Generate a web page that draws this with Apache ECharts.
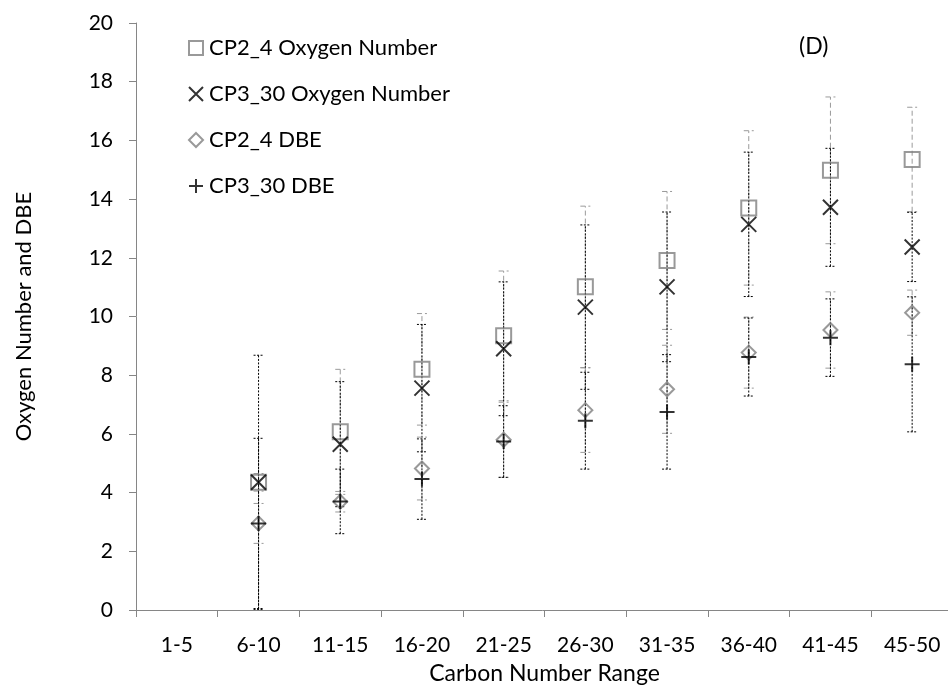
<!DOCTYPE html>
<html>
<head>
<meta charset="utf-8">
<script src="https://cdn.jsdelivr.net/npm/echarts@6/dist/echarts.min.js"></script>
<style>html,body{margin:0;padding:0;background:#fff}#c{width:948px;height:687px}</style>
</head>
<body>
<div id="c"></div>
<script>
var categories = ['1-5','6-10','11-15','16-20','21-25','26-30','31-35','36-40','41-45','45-50'];
var yTicks = [0,2,4,6,8,10,12,14,16,18,20];
var cp24O    = [null, 4.35, 6.07, 8.20, 9.34, 11.01, 11.91, 13.70, 14.98, 15.35];
var cp24OErr = [null, 0.30, 2.13, 1.90, 2.21, 2.75, 2.35, 2.63, 2.50, 1.78];
var cp330O    = [null, 4.35, 5.65, 7.56, 8.90, 10.32, 11.01, 13.14, 13.72, 12.37];
var cp330OErr = [null, 4.33, 2.13, 2.17, 2.28, 2.80, 2.55, 2.46, 2.01, 1.18];
var cp24D    = [null, 2.95, 3.69, 4.82, 5.80, 6.81, 7.52, 8.77, 9.54, 10.13];
var cp24DErr = [null, 0.68, 0.35, 1.07, 1.28, 1.44, 1.50, 1.21, 1.30, 0.77];
var cp330D    = [null, 2.95, 3.70, 4.46, 5.74, 6.45, 6.75, 8.62, 9.28, 8.37];
var cp330DErr = [null, 2.90, 1.10, 1.37, 1.22, 1.65, 1.95, 1.33, 1.32, 2.30];

var FONT = 'Lato, "Open Sans", sans-serif';

function errData(vals, errs) {
  var out = [];
  for (var i = 0; i < vals.length; i++) {
    if (vals[i] == null) continue;
    out.push([i, vals[i] - errs[i], vals[i] + errs[i]]);
  }
  return out;
}
function errSeries(vals, errs, color, dash) {
  return {
    type: 'custom',
    silent: true,
    z: 1,
    data: errData(vals, errs),
    renderItem: function (params, api) {
      var lo = api.coord([api.value(0), api.value(1)]);
      var hi = api.coord([api.value(0), api.value(2)]);
      var x = lo[0], hw = 5;
      var style = { stroke: color, lineWidth: 1, lineDash: dash, fill: null };
      return {
        type: 'group',
        children: [
          { type: 'line', shape: { x1: x, y1: lo[1], x2: x, y2: hi[1] }, style: style },
          { type: 'line', shape: { x1: x - hw, y1: lo[1], x2: x + hw, y2: lo[1] }, style: style },
          { type: 'line', shape: { x1: x - hw, y1: hi[1], x2: x + hw, y2: hi[1] }, style: style }
        ]
      };
    }
  };
}

var chart = echarts.init(document.getElementById('c'), null, { renderer: 'canvas' });
var xPath = 'path://M0,0L10,10M10,0L0,10';
var plusPath = 'path://M5,0L5,10M0,5L10,5';

chart.setOption({
  animation: false,
  backgroundColor: '#fff',
  textStyle: { fontFamily: FONT },
  grid: { left: 136, right: -5, top: 23, bottom: 77, containLabel: false, outerBoundsMode: 'none' },
  legend: {
    orient: 'vertical',
    left: 183,
    top: 32,
    itemWidth: 14,
    itemHeight: 14,
    itemGap: 24,
    textStyle: { fontSize: 22, lineHeight: 20, color: '#000', fontFamily: FONT, padding: [0, 0, 0, 1] },
    data: ['CP2_4 Oxygen Number', 'CP3_30 Oxygen Number', 'CP2_4 DBE', 'CP3_30 DBE']
  },
  graphic: [{
    type: 'text', left: 799, top: 35,
    style: { text: '(D)', fontSize: 23, fill: '#000', fontFamily: FONT }
  }],
  xAxis: {
    type: 'category',
    data: categories,
    boundaryGap: true,
    name: 'Carbon Number Range',
    nameLocation: 'middle',
    nameGap: 52,
    nameTextStyle: { fontSize: 23, color: '#000', fontFamily: FONT },
    axisLine: { lineStyle: { color: '#868686', width: 1 } },
    axisTick: { show: true, alignWithLabel: false, length: 7, lineStyle: { color: '#868686' } },
    axisLabel: { fontSize: 21, color: '#000', margin: 25, fontFamily: FONT, interval: 0 },
    splitLine: { show: false }
  },
  yAxis: {
    type: 'value',
    min: 0, max: 20, interval: 2,
    name: 'Oxygen Number and DBE',
    nameLocation: 'middle',
    nameGap: 101,
    nameTextStyle: { fontSize: 22, color: '#000', fontFamily: FONT },
    axisLine: { show: true, lineStyle: { color: '#868686', width: 1 } },
    axisTick: { show: true, inside: false, length: 7, lineStyle: { color: '#868686' } },
    axisLabel: { fontSize: 21, color: '#000', margin: 23, fontFamily: FONT,
      formatter: function (v) { return yTicks.indexOf(v) >= 0 ? String(v) : ''; } },
    splitLine: { show: false }
  },
  series: [
    errSeries(cp24O, cp24OErr, '#9a9a9a', [5, 3]),
    errSeries(cp330O, cp330OErr, '#000', [2, 1.5]),
    errSeries(cp24D, cp24DErr, '#9a9a9a', [5, 3]),
    errSeries(cp330D, cp330DErr, '#000', [2, 1.5]),
    {
      name: 'CP2_4 Oxygen Number', type: 'scatter', z: 3,
      symbol: 'rect', symbolSize: 15,
      itemStyle: { color: 'rgba(255,255,255,0)', borderColor: '#808080', borderWidth: 2 },
      data: cp24O
    },
    {
      name: 'CP3_30 Oxygen Number', type: 'scatter', z: 4,
      symbol: xPath, symbolSize: 15,
      itemStyle: { color: 'rgba(0,0,0,0)', borderColor: '#000', borderWidth: 2 },
      data: cp330O
    },
    {
      name: 'CP2_4 DBE', type: 'scatter', z: 5,
      symbol: 'diamond', symbolSize: [14, 14],
      itemStyle: { color: 'rgba(255,255,255,0)', borderColor: '#808080', borderWidth: 2 },
      data: cp24D
    },
    {
      name: 'CP3_30 DBE', type: 'scatter', z: 6,
      symbol: plusPath, symbolSize: 15,
      itemStyle: { color: 'rgba(0,0,0,0)', borderColor: '#000', borderWidth: 2 },
      data: cp330D
    }
  ]
});
</script>
</body>
</html>
